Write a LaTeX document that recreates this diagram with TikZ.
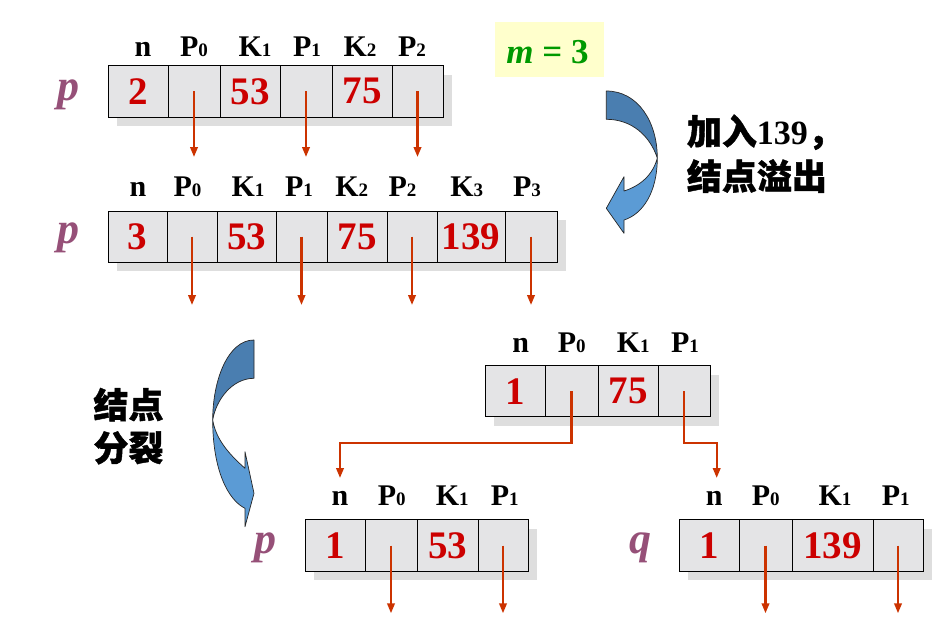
\documentclass[tikz,border=0pt]{standalone}
\usepackage{fontspec}
\setmainfont{Liberation Serif}
\newfontfamily\cjk{Noto Sans CJK SC}[BoldFeatures={FakeBold=1.2}]
\usetikzlibrary{arrows.meta}
\definecolor{cellgray}{RGB}{228,228,230}
\definecolor{shadowgray}{RGB}{222,222,222}
\definecolor{numred}{RGB}{204,0,0}
\definecolor{ptrred}{RGB}{204,51,0}
\definecolor{varpurple}{RGB}{150,80,120}
\definecolor{mgreen}{RGB}{0,153,0}
\definecolor{mboxfill}{RGB}{255,255,204}
\definecolor{arrdark}{RGB}{74,126,176}
\definecolor{arrlight}{RGB}{91,155,213}
\newcommand\hd[2]{#1{\fontsize{19}{19}\selectfont #2}}
\tikzset{
  cell/.style={draw=black, line width=0.9pt, fill=cellgray, minimum height=51.3pt,
    inner sep=0pt, text=numred, font=\fontsize{39}{39}\selectfont\bfseries},
  hdr/.style={anchor=base, inner sep=0pt, font=\fontsize{30}{30}\selectfont\bfseries},
  ptr/.style={draw=ptrred, line width=2.2pt, -{Triangle[length=10pt,width=7.5pt]}},
  varlab/.style={anchor=base, inner sep=0pt, text=varpurple,
    font=\fontsize{44}{44}\selectfont\bfseries\itshape},
  shadowbox/.style={fill=shadowgray, draw=none},
  cjktext/.style={anchor=base west, inner sep=0pt, font=\fontsize{35}{35}\selectfont\cjk\bfseries},
  bluearrow/.style={draw=black!85, line width=0.7pt, line join=round},
}
\begin{document}
\begin{tikzpicture}[x=1pt,y=-1pt]
\useasboundingbox (0,0) rectangle (951,621);
\fill[white] (0,0) rectangle (951,621);

% shadows of the node rows
\fill[shadowbox] (117,74.7) rectangle (452,126);
\fill[shadowbox] (117,220) rectangle (566,271.3);
\fill[shadowbox] (494,374.5) rectangle (719,425.8);
\fill[shadowbox] (314,529) rectangle (537,580);
\fill[shadowbox] (688,529) rectangle (932,580);

% row A
\node[cell, minimum width=60pt] (a0) at (138,91.35) {2};
\node[cell, minimum width=52pt] (a1) at (194,91.35) {};
\node[cell, minimum width=60pt] (a2) at (250,91.35) {53};
\node[cell, minimum width=52pt] (a3) at (306,91.35) {};
\node[cell, minimum width=60pt] (a4) at (362,91.35) {75};
\node[cell, minimum width=51pt] (a5) at (417.5,91.35) {};
% row B
\node[cell, minimum width=59pt] (b0) at (137.5,236.65) {3};
\node[cell, minimum width=50pt] (b1) at (192,236.65) {};
\node[cell, minimum width=59pt] (b2) at (246.5,236.65) {53};
\node[cell, minimum width=51pt] (b3) at (301.5,236.65) {};
\node[cell, minimum width=60pt] (b4) at (357,236.65) {75};
\node[cell, minimum width=50pt] (b5) at (412,236.65) {};
\node[cell, minimum width=68pt] (b6) at (471,236.65) {139};
\node[cell, minimum width=52pt] (b7) at (531,236.65) {};
% row C
\node[cell, minimum width=60pt] (c0) at (515,391.15) {1};
\node[cell, minimum width=53pt] (c1) at (571.5,391.15) {};
\node[cell, minimum width=60pt] (c2) at (628,391.15) {75};
\node[cell, minimum width=52pt] (c3) at (684,391.15) {};
% row D
\node[cell, minimum width=60pt] (d0) at (335,545.5) {1};
\node[cell, minimum width=52pt] (d1) at (391,545.5) {};
\node[cell, minimum width=61pt] (d2) at (447.5,545.5) {53};
\node[cell, minimum width=50pt] (d3) at (503,545.5) {};
% row E
\node[cell, minimum width=60pt] (e0) at (709,545.5) {1};
\node[cell, minimum width=53pt] (e1) at (765.5,545.5) {};
\node[cell, minimum width=81pt] (e2) at (832.5,545.5) {139};
\node[cell, minimum width=50pt] (e3) at (898,545.5) {};

% headers
\node[hdr] (ha0) at (143,56) {n};
\node[hdr] (ha1) at (194,56) {\hd{P}{0}};
\node[hdr] (ha2) at (255,56) {\hd{K}{1}};
\node[hdr] (ha3) at (307,56) {\hd{P}{1}};
\node[hdr] (ha4) at (360,56) {\hd{K}{2}};
\node[hdr] (ha5) at (412,56) {\hd{P}{2}};

\node[hdr] (hb0) at (138,196.7) {n};
\node[hdr] (hb1) at (187.5,196.7) {\hd{P}{0}};
\node[hdr] (hb2) at (248,196.7) {\hd{K}{1}};
\node[hdr] (hb3) at (299,196.7) {\hd{P}{1}};
\node[hdr] (hb4) at (351.7,196.7) {\hd{K}{2}};
\node[hdr] (hb5) at (402.5,196.7) {\hd{P}{2}};
\node[hdr] (hb6) at (466.7,196.7) {\hd{K}{3}};
\node[hdr] (hb7) at (527,196.7) {\hd{P}{3}};

\node[hdr] (hc0) at (520.8,352.3) {n};
\node[hdr] (hc1) at (571.7,352.3) {\hd{P}{0}};
\node[hdr] (hc2) at (633.3,352.3) {\hd{K}{1}};
\node[hdr] (hc3) at (685,352.3) {\hd{P}{1}};

\node[hdr] (hd0) at (340,505) {n};
\node[hdr] (hd1) at (391.7,505) {\hd{P}{0}};
\node[hdr] (hd2) at (452.3,505) {\hd{K}{1}};
\node[hdr] (hd3) at (504.7,505) {\hd{P}{1}};

\node[hdr] (he0) at (714.3,505) {n};
\node[hdr] (he1) at (765.8,505) {\hd{P}{0}};
\node[hdr] (he2) at (835,505) {\hd{K}{1}};
\node[hdr] (he3) at (895.7,505) {\hd{P}{1}};

% variable labels
\node[varlab] (pA) at (68,100) {p};
\node[varlab] (pB) at (68.3,243) {p};
\node[varlab] (pD) at (265,553) {p};
\node[varlab] (qE) at (640.7,553) {q};

% pointer ends
\coordinate (a1e) at (194,157);
\coordinate (a3e) at (306,157);
\coordinate (a5e) at (417.5,157);
\coordinate (b1e) at (192,305);
\coordinate (b3e) at (301.5,305);
\coordinate (b5e) at (412,305);
\coordinate (b7e) at (531,305);
\coordinate (d1e) at (391,613.3);
\coordinate (d3e) at (503,613.3);
\coordinate (e1e) at (765.5,613.3);
\coordinate (e3e) at (898,613.3);
\coordinate (tipL) at (340,478);
\coordinate (tipR) at (716.7,478);
\coordinate (bendL) at (340,443);
\coordinate (bendR) at (716.7,443);

\foreach \n in {a1,a3,a5,b1,b3,b5,b7,d1,d3,e1,e3}
  \draw[ptr] (\n.center) -- (\n e);
\draw[ptr] (c1.center) |- (bendL) -- (tipL);
\draw[ptr] (c3.center) |- (bendR) -- (tipR);

% m = 3 box
\node[fill=mboxfill, minimum width=109pt, minimum height=55pt, inner sep=0pt] (mbox) at (549.5,49.2) {};
\node[anchor=base, inner sep=0pt, text=mgreen, font=\fontsize{35}{35}\selectfont\bfseries] (mtext) at (547.5,63.3) {\textit{m} = 3};

% curved arrow 1
\filldraw[bluearrow, fill=arrdark] (606.3,91) .. controls (638,91) and (657.3,122) .. (657.3,158)
  .. controls (650,136) and (632,119.3) .. (606.3,119.3) -- cycle;
\filldraw[bluearrow, fill=arrlight] (657.3,158) .. controls (657.3,192) and (643,214) .. (624,220)
  -- (624,233.3) -- (606.3,208.3) -- (624,176.7) -- (624,191)
  .. controls (640,186) and (653,175) .. (657.3,158) -- cycle;

% curved arrow 2
\filldraw[bluearrow, fill=arrdark] (254,340) .. controls (228,340) and (212.7,380) .. (212.7,420)
  .. controls (216,400) and (232,378.3) .. (254,378.3) -- cycle;
\filldraw[bluearrow, fill=arrlight] (212.7,420) .. controls (212.7,470) and (228,500) .. (245,508.3)
  -- (245,526.7) -- (254,493.3) -- (245,451.7) -- (245,468.3)
  .. controls (230,455) and (216,440) .. (212.7,420) -- cycle;

% Chinese texts
\node[cjktext] (t1) at (686.7,144.5) {加入{\rmfamily\bfseries\fontsize{34}{34}\selectfont 139}，};
\node[cjktext] (t2) at (686.7,189.5) {结点溢出};
\node[cjktext] (t3) at (93.3,418) {结点};
\node[cjktext] (t4) at (93.3,461) {分裂};
\end{tikzpicture}
\end{document}
